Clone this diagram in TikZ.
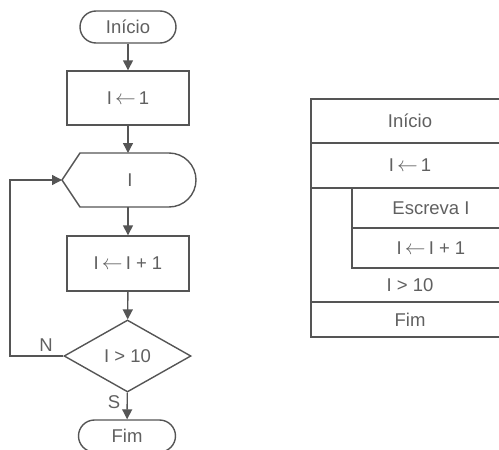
\documentclass[tikz,border=0pt]{standalone}
\usepackage{fontspec}
\setmainfont{Liberation Sans}
\usetikzlibrary{arrows.meta,shapes.geometric}
\definecolor{ln}{HTML}{555555}
\definecolor{tx}{HTML}{606060}
\newcommand{\larr}{\,{\fontsize{22}{22}\selectfont$\leftarrow$}\,}
\tikzset{
  lbl/.style={font=\fontsize{18.5}{22}\selectfont, text=tx, inner sep=0pt},
  term/.style={draw=ln, line width=1.4pt, rounded corners=16pt, minimum width=96pt, minimum height=32pt, lbl},
  proc/.style={draw=ln, line width=1.4pt, minimum width=122pt, minimum height=54pt, lbl},
  dec/.style={draw=ln, line width=1.4pt, diamond, minimum width=127pt, minimum height=72pt, lbl},
  flow/.style={draw=ln, line width=1.4pt, -{Triangle[length=10pt,width=10pt]}},
  tline/.style={draw=ln, line width=1.4pt},
}
\begin{document}
\begin{tikzpicture}[x=1pt,y=-1pt]
\useasboundingbox (0,0) rectangle (499,450);
\clip (0,0) rectangle (499,450);
% flowchart
\node[term] (inicio) at (128,27) {Início};
\node[proc] (a1) at (128,98) {I\larr 1};
\draw[tline] (80,153) -- (169,153) arc[start angle=-90,end angle=90,radius=27] -- (80,207) -- (62,180) -- cycle;
\coordinate (dtop) at (128,153);
\coordinate (dbot) at (128,207);
\coordinate (dleft) at (62,180);
\node[lbl] (dtext) at (130,180) {I};
\node[proc, minimum height=55pt] (a2) at (128,263.5) {I\larr I + 1};
\node[dec] (d) at (127.5,356) {I > 10};
\node[term, minimum width=97pt] (fim) at (127,436) {Fim};
\coordinate (lp) at (10,356);
\draw[flow] (inicio) -- (a1);
\draw[flow] (a1) -- (dtop);
\draw[flow] (dbot) -- (a2);
\draw[flow] (a2) -- (d);
\draw[flow] (d) -- (fim);
\draw[flow] (d.west) -- (lp) |- (dleft);
\node[lbl] (n) at (46,345) {N};
\node[lbl] (s) at (114,402) {S};
% Nassi-Shneiderman
\draw[tline] (520,99) -- (311,99) -- (311,337) -- (520,337);
\draw[tline] (311,143) -- (520,143);
\draw[tline] (311,188) -- (520,188);
\draw[tline] (352,188) -- (352,268) -- (520,268);
\draw[tline] (352,228) -- (520,228);
\draw[tline] (311,302) -- (520,302);
\node[lbl] (t1) at (410,121) {Início};
\node[lbl] (t2) at (410,165) {I\larr 1};
\node[lbl] (t3) at (431,208) {Escreva I};
\node[lbl] (t4) at (431,248) {I\larr I + 1};
\node[lbl] (t5) at (410,285) {I > 10};
\node[lbl] (t6) at (410,320) {Fim};
\end{tikzpicture}
\end{document}
